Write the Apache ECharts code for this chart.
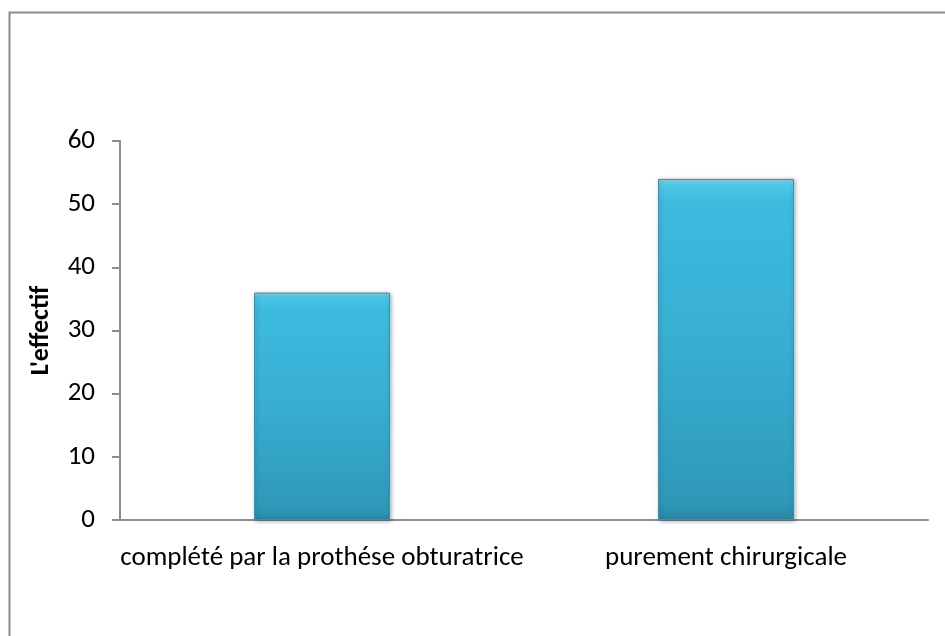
<!DOCTYPE html>
<html>
<head>
<meta charset="utf-8">
<script src="https://cdn.jsdelivr.net/npm/echarts@6/dist/echarts.min.js"></script>
<style>
  html, body { margin: 0; padding: 0; background: #fff; }
  #chart { width: 945px; height: 636px; }
</style>
</head>
<body>
<div id="chart"></div>
<script>
// Categories and counts per type of treatment
const categories = ['complété par la prothése obturatrice', 'purement chirurgicale'];
const counts = [36, 54];
const yTicks = { min: 0, max: 60, interval: 10 };
const yAxisTitle = "L'effectif";

const chart = echarts.init(document.getElementById('chart'), null, { renderer: 'canvas' });

const font = 'Carlito, Lato, "Open Sans", sans-serif';

chart.setOption({
  animation: false,
  backgroundColor: '#ffffff',
  graphic: [{
    type: 'rect',
    left: 7, top: 10,
    shape: { width: 1000, height: 700 },
    style: { fill: 'none', stroke: '#8c8c8c', lineWidth: 2 },
    silent: true
  }],
  grid: { left: 120, right: 17, top: 141, bottom: 116, containLabel: false },
  xAxis: {
    type: 'category',
    data: categories,
    axisLine: { lineStyle: { color: '#8c8c8c', width: 2 } },
    axisTick: { show: false },
    axisLabel: { color: '#000', fontFamily: font, fontSize: 27, margin: 25, interval: 0 }
  },
  yAxis: {
    type: 'value',
    min: yTicks.min, max: yTicks.max, interval: yTicks.interval,
    name: yAxisTitle,
    nameLocation: 'middle',
    nameGap: 66,
    nameRotate: 90,
    nameTextStyle: { color: '#000', fontFamily: font, fontSize: 26, fontWeight: 'bold' },
    axisLine: { show: true, lineStyle: { color: '#8c8c8c', width: 2 } },
    axisTick: { show: true, length: 8, lineStyle: { color: '#8c8c8c', width: 2 } },
    splitLine: { show: false },
    axisLabel: { color: '#000', fontFamily: font, fontSize: 27, margin: 25 }
  },
  series: [{
    type: 'bar',
    data: counts,
    barWidth: 136,
    itemStyle: {
      color: new echarts.graphic.LinearGradient(0, 0, 0, 1, [
        { offset: 0, color: '#7ADCF2' },
        { offset: 0.02, color: '#4CC6E6' },
        { offset: 0.07, color: '#3DBBDF' },
        { offset: 0.5, color: '#37AED2' },
        { offset: 0.95, color: '#2F98B8' },
        { offset: 1, color: '#2A86A3' }
      ]),
      borderColor: '#3295B3',
      borderWidth: 1,
      shadowColor: 'rgba(0,0,0,0.3)',
      shadowBlur: 4,
      shadowOffsetX: 1,
      shadowOffsetY: 1
    }
  }]
});
</script>
</body>
</html>
